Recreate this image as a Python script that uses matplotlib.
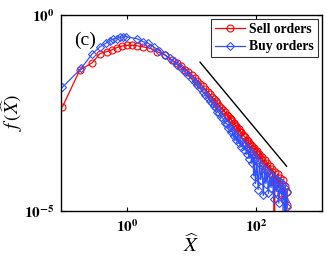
import numpy as np
import matplotlib
matplotlib.use("Agg")
import matplotlib.pyplot as plt
from matplotlib.ticker import FixedLocator, FuncFormatter, NullLocator

plt.rcParams['font.family'] = ['Liberation Serif', 'DejaVu Serif']
plt.rcParams['mathtext.fontset'] = 'stix'

# values, as log10(X) and log10(f)
sell_logx = [-1.00, -0.73, -0.54, -0.42, -0.31, -0.24, -0.16, -0.08, 0.00, 0.08,
             0.15, 0.25, 0.36, 0.46, 0.59, 0.69, 0.77, 0.84, 0.90, 0.95,
             1.00, 1.05, 1.09, 1.13, 1.17, 1.21, 1.25, 1.28, 1.31, 1.34,
             1.37, 1.40, 1.43, 1.46, 1.49, 1.52, 1.55, 1.57, 1.59, 1.61,
             1.63, 1.65, 1.67, 1.69, 1.71, 1.73, 1.75, 1.77, 1.79, 1.81,
             1.83, 1.85, 1.87, 1.89, 1.91, 1.93, 1.95, 1.97, 1.99, 2.01,
             2.03, 2.05, 2.07, 2.09, 2.11, 2.13, 2.15, 2.17, 2.19, 2.21,
             2.23, 2.25, 2.27, 2.28, 2.29, 2.31, 2.33, 2.35, 2.37, 2.39,
             2.41, 2.43, 2.45, 2.46, 2.47, 2.48]
sell_logf = [-2.34, -1.40, -1.22, -0.98, -0.93, -0.89, -0.83, -0.79, -0.77, -0.77,
             -0.78, -0.81, -0.85, -0.93, -1.02, -1.15, -1.23, -1.31, -1.39, -1.46,
             -1.53, -1.61, -1.68, -1.75, -1.82, -1.89, -1.96, -2.02, -2.08, -2.14,
             -2.19, -2.25, -2.31, -2.37, -2.42, -2.48, -2.54, -2.58, -2.63, -2.66,
             -2.71, -2.74, -2.80, -2.83, -2.88, -2.90, -2.97, -2.99, -3.05, -3.08,
             -3.12, -3.18, -3.20, -3.27, -3.30, -3.33, -3.41, -3.38, -3.50, -3.47,
             -3.58, -3.55, -3.68, -3.62, -3.78, -3.70, -3.88, -3.76, -3.95, -3.85,
             -4.05, -3.92, -4.15, -7.00, -4.00, -4.30, -4.05, -4.40, -4.15, -4.55,
             -4.20, -4.70, -4.35, -7.00, -4.85, -4.50]

buy_logx = [-1.00, -0.71, -0.54, -0.42, -0.33, -0.26, -0.21, -0.16, -0.11, -0.06,
            -0.02, 0.15, 0.25, 0.33, 0.41, 0.50, 0.59, 0.66, 0.72, 0.78,
            0.84, 0.90, 0.95, 1.00, 1.05, 1.09, 1.13, 1.17, 1.21, 1.25,
            1.28, 1.31, 1.34, 1.37, 1.40, 1.43, 1.46, 1.49, 1.52, 1.55,
            1.57, 1.59, 1.61, 1.63, 1.65, 1.67, 1.69, 1.71, 1.73, 1.75,
            1.77, 1.79, 1.81, 1.83, 1.85, 1.87, 1.89, 1.91, 1.93, 1.95,
            1.96, 1.97, 1.99, 2.01, 2.03, 2.05, 2.07, 2.09, 2.11, 2.13,
            2.15, 2.17, 2.19, 2.21, 2.23, 2.25, 2.27, 2.29, 2.31, 2.33,
            2.35, 2.37, 2.39, 2.41, 2.43, 2.44, 2.45, 2.46, 2.47, 2.48]
buy_logf = [-1.84, -1.36, -0.99, -0.81, -0.72, -0.65, -0.61, -0.60, -0.57, -0.56,
            -0.55, -0.60, -0.68, -0.72, -0.81, -0.91, -1.02, -1.10, -1.18, -1.27,
            -1.36, -1.45, -1.53, -1.62, -1.71, -1.79, -1.87, -1.95, -2.03, -2.11,
            -2.18, -2.24, -2.32, -2.37, -2.46, -2.50, -2.60, -2.64, -2.74, -2.78,
            -2.88, -2.86, -2.98, -2.95, -3.08, -3.03, -3.18, -3.10, -3.27, -3.18,
            -3.36, -3.25, -3.45, -3.32, -3.55, -3.40, -3.66, -3.48, -3.78, -3.55,
            -4.10, -3.62, -4.30, -3.70, -4.45, -3.78, -4.20, -3.85, -4.60, -3.92,
            -4.30, -4.00, -4.55, -4.05, -4.40, -4.10, -4.70, -4.15, -4.50, -4.20,
            -4.80, -4.25, -4.60, -4.30, -7.00, -4.40, -4.75, -7.00, -4.50, -4.90]

# slope guide line
guide_x = [13.5, 295.0]
guide_f = [6.3e-2, 1.4e-4]

red = '#ff0000'
blue = '#3050ff'

fig = plt.figure(figsize=(3.27, 2.60), dpi=100)
ax = fig.add_axes([0.187, 0.188, 0.798, 0.754])

ax.plot(10.0 ** np.array(sell_logx), 10.0 ** np.array(sell_logf), '-o', color=red,
        mfc='none', ms=5, lw=0.9, mew=0.8, label='Sell orders')
ax.plot(10.0 ** np.array(buy_logx), 10.0 ** np.array(buy_logf), '-D', color=blue,
        mfc='none', ms=4.2, lw=0.9, mew=0.8, label='Buy orders')
ax.plot(guide_x, guide_f, '-', color='black', lw=1.0)

ax.set_xscale('log')
ax.set_yscale('log')
ax.set_xlim(10 ** -1.02, 10 ** 3.02)
ax.set_ylim(1e-5, 1e0)

ax.xaxis.set_major_locator(FixedLocator([1e0, 1e2]))
ax.yaxis.set_major_locator(FixedLocator([1e-5, 1e0]))
ax.xaxis.set_minor_locator(NullLocator())
ax.yaxis.set_minor_locator(NullLocator())
fmt = FuncFormatter(lambda v, p: r'$\mathbf{10^{%d}}$' % int(round(np.log10(v))))
ax.xaxis.set_major_formatter(fmt)
ax.yaxis.set_major_formatter(fmt)
ax.tick_params(direction='in', top=True, right=True, length=3, width=0.8,
               labelsize=11, pad=5)
for s in ax.spines.values():
    s.set_linewidth(1.0)

ax.set_xlabel(r'$\widehat{X}$', fontsize=15, labelpad=0)
ax.set_ylabel(r'$f\,(\widehat{X})$', fontsize=14)
ax.yaxis.set_label_coords(-0.14, 0.5)

ax.text(0.05, 0.87, '(c)', transform=ax.transAxes, fontsize=14, va='center')

leg = ax.legend(loc='upper right', frameon=True, fancybox=False,
                edgecolor='black', borderpad=0.3, handlelength=2.2,
                handletextpad=0.3, labelspacing=0.3, borderaxespad=0.3,
                prop={'weight': 'bold', 'size': 9.8})
leg.get_frame().set_linewidth(0.8)

fig.savefig('out.png', dpi=100)
